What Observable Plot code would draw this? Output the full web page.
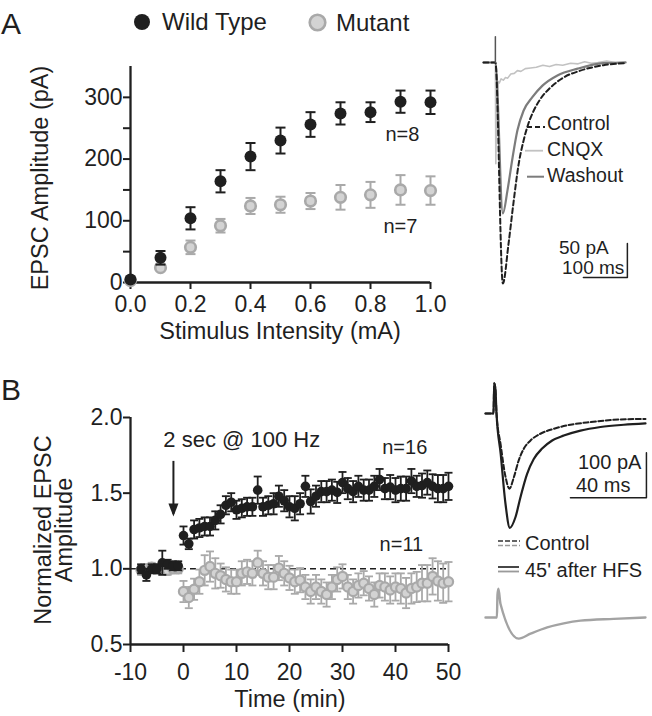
<!DOCTYPE html>
<html><head><meta charset="utf-8">
<script src="https://cdn.jsdelivr.net/npm/d3@7"></script>
<script src="https://cdn.jsdelivr.net/npm/@observablehq/plot@0.6"></script>
<style>
html,body{margin:0;padding:0;background:#fff;}
#fig{position:relative;width:652px;height:716px;overflow:hidden;font-family:"Liberation Sans",Arial,Helvetica,sans-serif;color:#1f1f1f;background:#fff;}
.lbl{position:absolute;white-space:nowrap;line-height:1;}
</style></head><body><div id="fig"></div>
<script>
// ---------------- Panel A: input/output ----------------
const intensity = [0, 0.1, 0.2, 0.3, 0.4, 0.5, 0.6, 0.7, 0.8, 0.9, 1.0];
const wtAmp  = [5, 40, 104, 164, 204, 230, 256, 274, 276, 293, 292];
const wtSem  = [3, 11, 18, 18, 22, 21, 20, 18, 16, 18, 19];
const mutAmp = [3, 24, 57, 92, 124, 126, 132, 138, 142, 150, 149];
const mutSem = [2, 4, 11, 11, 13, 13, 13, 20, 21, 24, 23];
const yTicksA = [0, 100, 200, 300];
const yMinorA = [50, 150, 250];
const xTicksA = [0, 0.2, 0.4, 0.6, 0.8, 1.0];

// ---------------- Panel A: example traces (ms, pA) ----------------
const ctrlA_t = [0, 27, 44, 57, 68, 80, 91, 102, 114, 130, 152, 182, 220, 273, 323];
const ctrlA_i = [0, 0, -325, -266, -207, -149, -115, -90, -71, -53, -37, -22, -12, -4, -1];
const washA_t = [0, 27, 44, 54.5, 66, 77, 91, 111, 134, 168, 214, 273, 323];
const washA_i = [0, 0, -222, -188, -140, -100, -71, -51, -34, -19, -9, -1, 0];
const cnqxA_t = [0, 27, 28, 30, 33, 36, 40, 45, 50, 55, 62, 70, 77, 85, 95, 107, 120, 135, 150, 165, 180, 198, 215, 230, 245, 260, 280, 300, 323];
const cnqxA_i = [0, 0, -149, -60, -28, -30, -24, -26, -22, -23, -17, -16, -12, -13, -9, -8, -7, -4, -6, -3, -4, -1, -2, 1, -1, 0, 2, 0, 1];
const artA_t = [27, 27];
const artA_i = [0, 38];
const scaleA = {ms: 100, pA: 50};

// ---------------- Panel B: time course ----------------
const timeB = [-8, -7, -6, -5, -4, -3, -2, -1,
  0, 1, 2, 3, 4, 5, 6, 7, 8, 9, 10, 11, 12, 13, 14, 15, 16, 17, 18, 19, 20,
  21, 22, 23, 24, 25, 26, 27, 28, 29, 30, 31, 32, 33, 34, 35, 36, 37, 38, 39, 40,
  41, 42, 43, 44, 45, 46, 47, 48, 49, 50];
const wtNorm = [1.00, 0.96, 1.00, 1.00, 1.04, 1.03, 1.02, 1.02,
  1.22, 1.165, 1.26, 1.27, 1.28, 1.28, 1.32, 1.36, 1.42, 1.44,
  1.39, 1.40, 1.41, 1.41, 1.52, 1.41, 1.42, 1.43, 1.48, 1.45,
  1.41, 1.40, 1.43, 1.545, 1.445, 1.48, 1.51, 1.51, 1.52, 1.505,
  1.57, 1.53, 1.51, 1.545, 1.52, 1.52, 1.545, 1.59, 1.53, 1.54,
  1.52, 1.53, 1.53, 1.58, 1.545, 1.55, 1.57, 1.545, 1.53, 1.53, 1.545];
const wtNormSem = [0.03, 0.04, 0.03, 0.03, 0.08, 0.03, 0.03, 0.03,
  0.06, 0.035, 0.06, 0.06, 0.06, 0.06, 0.06, 0.06, 0.06, 0.06,
  0.06, 0.06, 0.06, 0.06, 0.09, 0.06, 0.06, 0.07, 0.07, 0.07,
  0.07, 0.08, 0.07, 0.07, 0.08, 0.07, 0.07, 0.07, 0.07, 0.07,
  0.07, 0.07, 0.07, 0.07, 0.07, 0.07, 0.07, 0.07, 0.07, 0.08,
  0.08, 0.08, 0.08, 0.08, 0.07, 0.08, 0.08, 0.08, 0.09, 0.09, 0.09];
const mutNorm = [0.99, 1.00, 1.01, 1.00, 1.00, 0.99, 1.00, 1.00,
  0.85, 0.81, 0.865, 0.915, 0.99, 1.015, 0.97, 0.955, 0.93, 0.915,
  0.915, 0.97, 0.98, 0.97, 1.04, 0.97, 0.945, 0.945, 1.005, 0.97,
  0.94, 0.915, 0.925, 0.88, 0.85, 0.88, 0.85, 0.83, 0.88, 0.93,
  0.95, 0.88, 0.85, 0.89, 0.905, 0.87, 0.83, 0.89, 0.88, 0.86,
  0.88, 0.87, 0.84, 0.87, 0.88, 0.905, 0.905, 0.95, 0.92, 0.905, 0.915];
const mutNormSem = [0.03, 0.03, 0.03, 0.03, 0.03, 0.03, 0.03, 0.03,
  0.07, 0.07, 0.07, 0.08, 0.10, 0.10, 0.10, 0.08, 0.08, 0.08,
  0.08, 0.08, 0.08, 0.08, 0.08, 0.08, 0.08, 0.08, 0.08, 0.08,
  0.08, 0.08, 0.08, 0.08, 0.08, 0.08, 0.08, 0.08, 0.08, 0.08,
  0.08, 0.08, 0.08, 0.08, 0.08, 0.08, 0.08, 0.08, 0.09, 0.09,
  0.09, 0.10, 0.10, 0.10, 0.10, 0.12, 0.12, 0.12, 0.13, 0.13, 0.13];
const yTicksB = [0.5, 1.0, 1.5, 2.0];
const xTicksB = [-10, 0, 10, 20, 30, 40, 50];
const hfsTime = -1.9;

// ---------------- Panel B: example traces (ms, pA) ----------------
const ctrlB_t = [0, 4.2, 4.6, 5.2, 5.8, 8, 10.5, 12.6, 14.9, 17.5, 20.2, 23.7, 28.9, 35.9, 44.7, 55.3, 67.5, 84.2];
const ctrlB_i = [0, 0, 67, 55, 0, -70, -140, -167, -142, -104, -78, -60, -45, -34, -25, -19, -14, -12];
const hfsB_t  = [0, 4.2, 4.6, 5.2, 5.8, 8, 10.5, 12.8, 15.8, 18.4, 21.9, 25.4, 29.8, 35.1, 41.2, 50, 60.5, 72.8, 84.2];
const hfsB_i  = [0, 0, 67, 55, 0, -90, -200, -254, -230, -186, -134, -101, -78, -60, -49, -38, -30, -25, -22];
const mutB_t  = [0, 6, 6.3, 6.8, 7.9, 17.5, 23.7, 32.5, 41.2, 50, 67.5, 84.2];
const mutB_i  = [0, 0, 50, 64, 30, -47, -36, -22, -13, -7, -3, 0];
const scaleB = {ms: 40, pA: 100};

// ---------------- styling ----------------
const FONT = '"Liberation Sans", Arial, Helvetica, sans-serif';
const INK = "#1f1f1f";
const GREY_FILL = "#d3d3d3";
const GREY_LINE = "#a9a9a9";
const baseStyle = {background: "none", overflow: "visible", fontFamily: FONT, fontSize: "23px", color: INK};
const cap = {draw(ctx, size) { const w = Math.sqrt(size / Math.PI); ctx.moveTo(-w, 0); ctx.lineTo(w, 0); }};
const headDown = {draw(ctx) { ctx.moveTo(0, 6.5); ctx.lineTo(-5, -6.5); ctx.lineTo(5, -6.5); ctx.closePath(); }};

const fig = document.getElementById("fig");
function place(el, left, top) {
  el.style.position = "absolute"; el.style.left = left + "px"; el.style.top = top + "px";
  fig.appendChild(el);
}
function label(text, x, y, {size = 23, anchor = "start", rotate = 0, color = INK} = {}) {
  const d = document.createElement("div");
  d.className = "lbl"; d.textContent = text;
  d.style.fontSize = size + "px"; d.style.left = x + "px"; d.style.top = y + "px"; d.style.color = color;
  const tx = anchor === "start" ? "0" : anchor === "middle" ? "-50%" : "-100%";
  d.style.transform = `translate(${tx},-50%)` + (rotate ? ` rotate(${rotate}deg)` : "");
  fig.appendChild(d);
}

// ---------------- Panel A scatter ----------------
const rowsA = intensity.map((x, k) => ({x, wt: wtAmp[k], wte: wtSem[k], mu: mutAmp[k], mue: mutSem[k]}));
const plotA = Plot.plot({
  width: 460, height: 345, marginLeft: 130, marginRight: 30, marginTop: 66, marginBottom: 63,
  x: {domain: [0, 1]}, y: {domain: [0, 350]}, style: baseStyle,
  marks: [
    Plot.axisY({ticks: yTicksA, tickSize: 7, tickPadding: 1, strokeWidth: 2, fontSize: 23, label: null}),
    Plot.axisY({ticks: yMinorA, tickSize: 7, strokeWidth: 2, tickFormat: () => "", label: null}),
    Plot.axisX({ticks: xTicksA, tickSize: 7, tickPadding: 6, strokeWidth: 2, fontSize: 23, tickFormat: d3.format(".1f"), label: null}),
    Plot.ruleX([0], {y1: 0, y2: 350, stroke: INK, strokeWidth: 2.3}),
    Plot.ruleY([0], {x1: 0, x2: 1, stroke: INK, strokeWidth: 2.3}),
    Plot.ruleX(rowsA, {x: "x", y1: d => d.mu - d.mue, y2: d => d.mu + d.mue, stroke: GREY_LINE, strokeWidth: 2}),
    Plot.dot(rowsA, {x: "x", y: d => d.mu - d.mue, symbol: cap, r: 5, fill: "none", stroke: GREY_LINE, strokeWidth: 2}),
    Plot.dot(rowsA, {x: "x", y: d => d.mu + d.mue, symbol: cap, r: 5, fill: "none", stroke: GREY_LINE, strokeWidth: 2}),
    Plot.dot(rowsA, {x: "x", y: "mu", r: 5.3, fill: GREY_FILL, stroke: GREY_LINE, strokeWidth: 2.6}),
    Plot.ruleX(rowsA, {x: "x", y1: d => d.wt - d.wte, y2: d => d.wt + d.wte, stroke: INK, strokeWidth: 2}),
    Plot.dot(rowsA, {x: "x", y: d => d.wt - d.wte, symbol: cap, r: 5, fill: "none", stroke: INK, strokeWidth: 2}),
    Plot.dot(rowsA, {x: "x", y: d => d.wt + d.wte, symbol: cap, r: 5, fill: "none", stroke: INK, strokeWidth: 2}),
    Plot.dot(rowsA, {x: "x", y: "wt", r: 6, fill: INK}),
    Plot.text(["n=8"], {x: 0.85, y: 240, text: d => d, textAnchor: "start", fontSize: 20, fill: INK}),
    Plot.text(["n=7"], {x: 0.843, y: 91, text: d => d, textAnchor: "start", fontSize: 20, fill: INK})
  ]
});
place(plotA, 0, 0);

// ---------------- trace plot helper ----------------
function tracePlot(c, marks) {
  return Plot.plot({
    width: c.width, height: c.height,
    marginLeft: c.x0, marginRight: c.width - c.x0 - c.tMax * c.msPx,
    marginTop: c.y0 - c.iMax * c.paPx, marginBottom: c.height - c.y0 + c.iMin * c.paPx,
    x: {domain: [0, c.tMax], axis: null}, y: {domain: [c.iMin, c.iMax], axis: null},
    style: baseStyle, marks
  });
}
const rows = (ts, is) => ts.map((t, k) => ({t, i: is[k]}));
function scaleBar(sb, tEnd, iBottom) {
  return Plot.line([{t: tEnd - sb.ms, i: iBottom}, {t: tEnd, i: iBottom}, {t: tEnd, i: iBottom + sb.pA}],
    {x: "t", y: "i", stroke: INK, strokeWidth: 1.5});
}

// Panel A traces
const cfgA = {width: 182, height: 270, x0: 13, y0: 32, msPx: 0.44, paPx: 0.68, tMax: 340, iMin: -340, iMax: 46};
const trA = tracePlot(cfgA, [
  Plot.line(rows(cnqxA_t, cnqxA_i), {x: "t", y: "i", stroke: "#c2c2c2", strokeWidth: 1.6}),
  Plot.line(rows(washA_t, washA_i), {x: "t", y: "i", stroke: "#7c7c7c", strokeWidth: 2.2, curve: "monotone-x"}),
  Plot.line(rows(ctrlA_t, ctrlA_i), {x: "t", y: "i", stroke: INK, strokeWidth: 2, strokeDasharray: "5,3", curve: "monotone-x"}),
  Plot.line(rows(artA_t, artA_i), {x: "t", y: "i", stroke: "#555", strokeWidth: 1.5}),
  scaleBar(scaleA, 327, -316)
]);
place(trA, 470, 30);

// ---------------- Panel B time course ----------------
const rowsB = timeB.map((t, k) => ({t, wt: wtNorm[k], wte: wtNormSem[k], mu: mutNorm[k], mue: mutNormSem[k]}));
const plotB = Plot.plot({
  width: 468, height: 316, marginLeft: 130, marginRight: 20, marginTop: 17, marginBottom: 72,
  x: {domain: [-10, 50]}, y: {domain: [0.5, 2.0]}, style: baseStyle,
  marks: [
    Plot.axisY({ticks: yTicksB, tickSize: 7, tickPadding: 1, strokeWidth: 2, fontSize: 23, tickFormat: d3.format(".1f"), label: null}),
    Plot.axisX({ticks: xTicksB, tickSize: 8, tickPadding: 11, strokeWidth: 2, fontSize: 23, tickFormat: d => String(d), label: null}),
    Plot.ruleX([-10], {y1: 0.5, y2: 2.0, stroke: INK, strokeWidth: 2.3}),
    Plot.ruleY([0.5], {x1: -10, x2: 50, stroke: INK, strokeWidth: 2.3}),
    Plot.ruleY([1.0], {x1: -10, x2: 50, stroke: INK, strokeWidth: 1.5, strokeDasharray: "6,4"}),
    Plot.ruleX(rowsB, {x: "t", y1: d => d.mu - d.mue, y2: d => d.mu + d.mue, stroke: GREY_LINE, strokeWidth: 1.8}),
    Plot.dot(rowsB, {x: "t", y: d => d.mu - d.mue, symbol: cap, r: 4, fill: "none", stroke: GREY_LINE, strokeWidth: 1.8}),
    Plot.dot(rowsB, {x: "t", y: d => d.mu + d.mue, symbol: cap, r: 4, fill: "none", stroke: GREY_LINE, strokeWidth: 1.8}),
    Plot.dot(rowsB, {x: "t", y: "mu", r: 4.6, fill: GREY_FILL, stroke: GREY_LINE, strokeWidth: 2.2}),
    Plot.ruleX(rowsB, {x: "t", y1: d => d.wt - d.wte, y2: d => d.wt + d.wte, stroke: INK, strokeWidth: 1.8}),
    Plot.dot(rowsB, {x: "t", y: d => d.wt - d.wte, symbol: cap, r: 4, fill: "none", stroke: INK, strokeWidth: 1.8}),
    Plot.dot(rowsB, {x: "t", y: d => d.wt + d.wte, symbol: cap, r: 4, fill: "none", stroke: INK, strokeWidth: 1.8}),
    Plot.dot(rowsB, {x: "t", y: "wt", r: 4.8, fill: INK}),
    Plot.ruleX([hfsTime], {y1: 1.71, y2: 1.36, stroke: INK, strokeWidth: 2}),
    Plot.dot([hfsTime], {x: d => d, y: 1.345, dy: -6.5, symbol: headDown, fill: INK, stroke: "none"}),
    Plot.text(["2 sec @ 100 Hz"], {x: -3.8, y: 1.85, text: d => d, textAnchor: "start", fontSize: 22, fill: INK}),
    Plot.text(["n=16"], {x: 37.5, y: 1.80, text: d => d, textAnchor: "start", fontSize: 20, fill: INK}),
    Plot.text(["n=11"], {x: 37, y: 1.16, text: d => d, textAnchor: "start", fontSize: 20, fill: INK})
  ]
});
place(plotB, 0, 400);

// Panel B traces
const cfgBw = {width: 172, height: 170, x0: 5, y0: 41, msPx: 1.9, paPx: 0.45, tMax: 87, iMin: -280, iMax: 80};
const trBw = tracePlot(cfgBw, [
  Plot.line(rows(hfsB_t, hfsB_i), {x: "t", y: "i", stroke: INK, strokeWidth: 2.2, curve: "monotone-x"}),
  Plot.line(rows(ctrlB_t, ctrlB_i), {x: "t", y: "i", stroke: INK, strokeWidth: 2, strokeDasharray: "5,2.5", curve: "monotone-x"}),
  scaleBar(scaleB, 84.7, -187)
]);
place(trBw, 480, 372);

const cfgBm = {width: 172, height: 70, x0: 5, y0: 37, msPx: 1.9, paPx: 0.45, tMax: 87, iMin: -60, iMax: 75};
const trBm = tracePlot(cfgBm, [
  Plot.line(rows(mutB_t, mutB_i), {x: "t", y: "i", stroke: "#a3a3a3", strokeWidth: 2.4, curve: "monotone-x"})
]);
place(trBm, 480, 580);

// ---------------- legend swatches ----------------
const sw = d3.create("svg").attr("width", 652).attr("height", 716)
  .style("position", "absolute").style("left", "0px").style("top", "0px").style("pointer-events", "none");
const swLine = (x1, x2, y, stroke, w, dash) => sw.append("line").attr("x1", x1).attr("x2", x2).attr("y1", y).attr("y2", y)
  .attr("stroke", stroke).attr("stroke-width", w).attr("stroke-dasharray", dash || null);
swLine(527, 545, 127, INK, 1.8, "5,3");
swLine(525, 543, 150.7, "#c2c2c2", 1.8);
swLine(527, 544, 176.7, "#7c7c7c", 2);
swLine(498, 520, 541, "#333", 1.6, "5,2");
swLine(498, 520, 545.5, "#9a9a9a", 1.6, "5,2");
swLine(498, 519, 567, "#333", 1.8);
swLine(498, 519, 571.5, "#9a9a9a", 1.8);
sw.append("circle").attr("cx", 142).attr("cy", 22).attr("r", 8).attr("fill", INK);
sw.append("circle").attr("cx", 317.5).attr("cy", 22.5).attr("r", 7.8).attr("fill", GREY_FILL).attr("stroke", GREY_LINE).attr("stroke-width", 2.6);
fig.appendChild(sw.node());

// ---------------- text ----------------
label("A", 1, 24, {size: 30});
label("B", 1, 390, {size: 30});
label("Wild Type", 162, 22, {size: 24});
label("Mutant", 336, 22.5, {size: 24});
label("EPSC Amplitude (pA)", 41, 178, {size: 23.5, anchor: "middle", rotate: -90});
label("Stimulus Intensity (mA)", 280, 332, {size: 23.5, anchor: "middle"});
label("Control", 547, 124, {size: 19.5});
label("CNQX", 547, 150, {size: 19.5});
label("Washout", 547, 176, {size: 19.5});
label("50 pA", 559, 247, {size: 19});
label("100 ms", 562, 267, {size: 19});
label("Normalized EPSC", 44, 530, {size: 23.5, anchor: "middle", rotate: -90});
label("Amplitude", 65, 530, {size: 23.5, anchor: "middle", rotate: -90});
label("Time (min)", 290, 700, {size: 23.5, anchor: "middle"});
label("100 pA", 578, 462, {size: 20});
label("40 ms", 576, 485, {size: 20});
label("Control", 525, 543, {size: 20});
label("45' after HFS", 525, 570, {size: 20});
</script></body></html>
